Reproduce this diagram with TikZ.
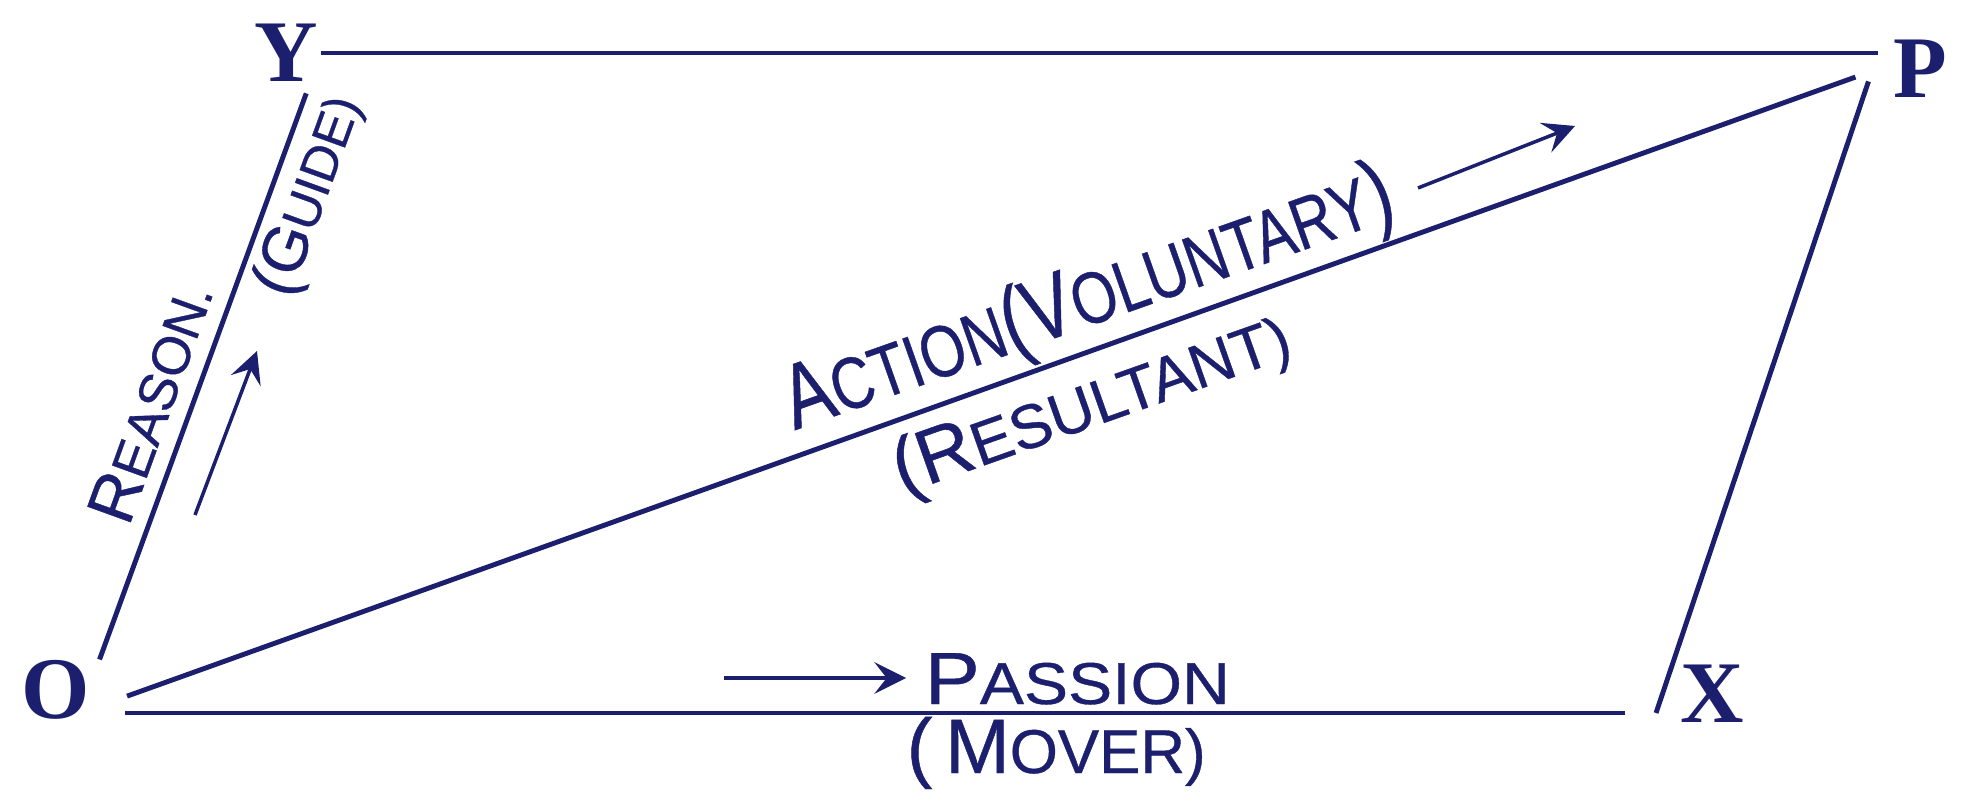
\documentclass[tikz,border=0pt]{standalone}
\usepackage{fontspec}
\setmainfont{Liberation Serif}
\newfontfamily\handfont{Liberation Sans}[FakeBold=0.6]
\usetikzlibrary{arrows.meta}
\definecolor{ink}{HTML}{1C1F6E}
\newcommand{\capit}[2]{#1\scalebox{0.8}{#2}}
\tikzset{
  vertex/.style={text=ink, inner sep=0pt, font=\bfseries\fontsize{25}{30}\selectfont},
  lettering/.style={text=ink, inner sep=0pt, font=\handfont\fontsize{#1}{#1}\selectfont},
  lettering/.default=21,
  side/.style={draw=ink, line width=1.4pt},
  sense/.style={draw=ink, line width=1pt, -{Stealth[length=9pt,width=9pt,inset=3.5pt]}},
}
\begin{document}
\begin{tikzpicture}
  \useasboundingbox (0,0) rectangle (19.67,7.94);
  % corners of the parallelogram
  \coordinate (o) at (0.80,0.81);
  \coordinate (y) at (3.21,7.41);
  \coordinate (p) at (18.78,7.41);
  \coordinate (x) at (16.56,0.81);
  \node[vertex] (O) at (0.56,1.04) {O};
  \node[vertex] (Y) at (2.86,7.41) {Y};
  \node[vertex] (P) at (19.20,7.25) {P};
  \node[vertex] (X) at (17.12,1.00) {X};
  % sides and diagonal
  \draw[side, shorten <=0.57cm, shorten >=0.43cm] (o) -- (y);
  \draw[side] (y) -- (p);
  \draw[side, shorten <=0.45cm, shorten >=0.31cm] (o) -- (x);
  \draw[side, shorten <=0.0cm, shorten >=0.30cm] (x) -- (p);
  \draw[side, shorten <=0.50cm, shorten >=0.24cm] (o) -- ([yshift=-1.6mm]p);
  % direction arrows
  \coordinate (r1) at (1.95,2.79);
  \coordinate (r2) at (2.57,4.43);
  \coordinate (a1) at (14.18,6.06);
  \coordinate (a2) at (15.75,6.68);
  \coordinate (m1) at (7.24,1.16);
  \coordinate (m2) at (9.06,1.16);
  \draw[sense] (r1) -- (r2);
  \draw[sense] (a1) -- (a2);
  \draw[sense] (m1) -- (m2);
  % words
  \node[lettering=19, rotate=70.1] (reason) at (1.50,3.92) {\capit{R}{EASON.}};
  \node[lettering=18, rotate=70.1] (guide) at (3.10,5.98) {\capit{(G}{UIDE)}};
  \node[lettering=26, rotate=19.5] (action) at (10.89,4.93)
    {\scalebox{0.8}[1]{\capit{A}{CTION}\capit{(V}{OLUNTARY})}};
  \node[lettering=22, rotate=19.5] (result) at (10.92,3.88) {\capit{(R}{ESULTANT)}};
  \node[lettering, anchor=base west] (passion) at (9.24,0.90) {\scalebox{1.12}[1]{\capit{P}{ASSION}}};
  \node[lettering=22, anchor=base west] (mover) at (9.06,0.21) {\capit{(\,M}{OVER)}};
\end{tikzpicture}
\end{document}
